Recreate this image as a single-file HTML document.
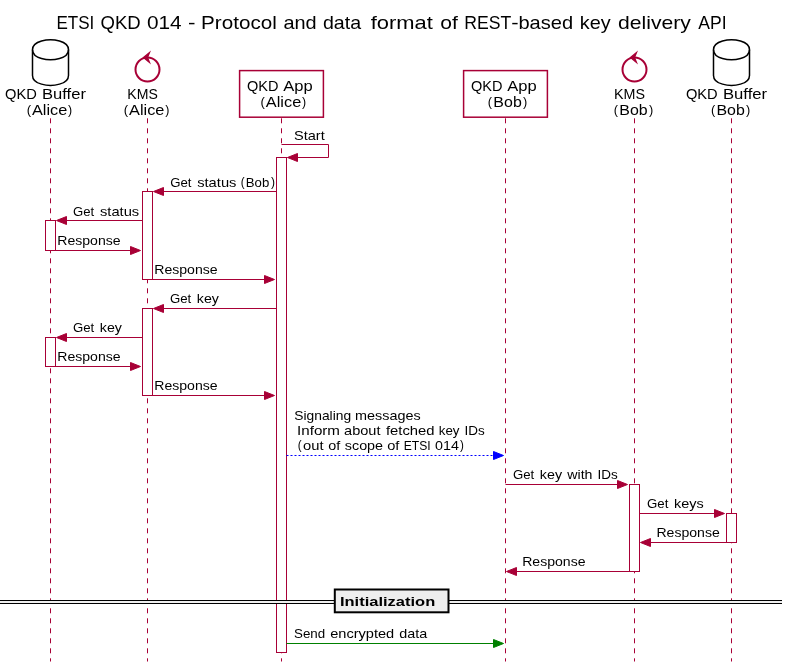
<!DOCTYPE html>
<html>
<head>
<meta charset="utf-8">
<title>ETSI QKD 014</title>
<style>
html,body{margin:0;padding:0;background:#FFFFFF;}
body{width:788px;height:667px;overflow:hidden;font-family:"Liberation Sans",sans-serif;}
svg{display:block;will-change:transform;}
svg text{font-family:"Liberation Sans",sans-serif;fill:#000000;}
</style>
</head>
<body>
<svg width="788" height="667" viewBox="0 0 788 667">
<rect x="0" y="0" width="788" height="667" fill="#FFFFFF"/>
<line x1="50.5" y1="118.3" x2="50.5" y2="661.5" stroke="#A80036" stroke-width="1" stroke-dasharray="5,5"/>
<line x1="147.5" y1="118.3" x2="147.5" y2="661.5" stroke="#A80036" stroke-width="1" stroke-dasharray="5,5"/>
<line x1="281.5" y1="118.3" x2="281.5" y2="661.5" stroke="#A80036" stroke-width="1" stroke-dasharray="5,5"/>
<line x1="505.5" y1="118.3" x2="505.5" y2="661.5" stroke="#A80036" stroke-width="1" stroke-dasharray="5,5"/>
<line x1="634.5" y1="118.3" x2="634.5" y2="661.5" stroke="#A80036" stroke-width="1" stroke-dasharray="5,5"/>
<line x1="731.5" y1="118.3" x2="731.5" y2="661.5" stroke="#A80036" stroke-width="1" stroke-dasharray="5,5"/>
<rect x="276.5" y="157.5" width="10" height="495.0" fill="#FFFFFF" stroke="#A80036" stroke-width="1"/>
<rect x="142.5" y="191.5" width="10" height="88.0" fill="#FFFFFF" stroke="#A80036" stroke-width="1"/>
<rect x="45.5" y="220.5" width="10" height="30.0" fill="#FFFFFF" stroke="#A80036" stroke-width="1"/>
<rect x="142.5" y="308.5" width="10" height="87.0" fill="#FFFFFF" stroke="#A80036" stroke-width="1"/>
<rect x="45.5" y="337.5" width="10" height="29.0" fill="#FFFFFF" stroke="#A80036" stroke-width="1"/>
<rect x="629.5" y="484.5" width="10" height="87.0" fill="#FFFFFF" stroke="#A80036" stroke-width="1"/>
<rect x="726.5" y="513.5" width="10" height="29.0" fill="#FFFFFF" stroke="#A80036" stroke-width="1"/>
<path d="M32.5,49.7 C32.5,39.7 50.5,39.7 50.5,39.7 C50.5,39.7 68.5,39.7 68.5,49.7 L68.5,75.4 C68.5,85.4 50.5,85.4 50.5,85.4 C50.5,85.4 32.5,85.4 32.5,75.4 L32.5,49.7" fill="#FFFFFF" stroke="#000000" stroke-width="1.5"/>
<path d="M32.5,49.7 C32.5,59.7 50.5,59.7 50.5,59.7 C50.5,59.7 68.5,59.7 68.5,49.7" fill="none" stroke="#000000" stroke-width="1.5"/>
<path d="M713.5,49.7 C713.5,39.7 731.5,39.7 731.5,39.7 C731.5,39.7 749.5,39.7 749.5,49.7 L749.5,75.4 C749.5,85.4 731.5,85.4 731.5,85.4 C731.5,85.4 713.5,85.4 713.5,75.4 L713.5,49.7" fill="#FFFFFF" stroke="#000000" stroke-width="1.5"/>
<path d="M713.5,49.7 C713.5,59.7 731.5,59.7 731.5,59.7 C731.5,59.7 749.5,59.7 749.5,49.7" fill="none" stroke="#000000" stroke-width="1.5"/>
<ellipse cx="147.5" cy="69.5" rx="12" ry="12" fill="#FFFFFF" stroke="#A80036" stroke-width="2"/>
<polygon points="143.5,57.5 149.5,52.5 147.5,57.5 149.5,62.5" fill="#A80036" stroke="#A80036" stroke-width="1.25" stroke-miterlimit="10"/>
<ellipse cx="634.5" cy="69.5" rx="12" ry="12" fill="#FFFFFF" stroke="#A80036" stroke-width="2"/>
<polygon points="630.5,57.5 636.5,52.5 634.5,57.5 636.5,62.5" fill="#A80036" stroke="#A80036" stroke-width="1.25" stroke-miterlimit="10"/>
<rect x="239.6" y="70.6" width="83.8" height="46.6" fill="#FFFFFF" stroke="#A80036" stroke-width="1.5"/>
<rect x="463.6" y="70.6" width="83.8" height="46.6" fill="#FFFFFF" stroke="#A80036" stroke-width="1.5"/>
<text font-size="18.81"><tspan x="56.40" y="29.1" font-size="18.81" textLength="37.87" lengthAdjust="spacingAndGlyphs">ETSI</tspan> <tspan x="100.52" y="29.1" font-size="18.81" textLength="40.16" lengthAdjust="spacingAndGlyphs">QKD</tspan> <tspan x="146.99" y="29.1" font-size="18.81" textLength="34.72" lengthAdjust="spacingAndGlyphs">014</tspan> <tspan x="187.90" y="29.1" font-size="18.81" textLength="7.50" lengthAdjust="spacingAndGlyphs">-</tspan> <tspan x="201.11" y="29.1" font-size="18.81" textLength="75.67" lengthAdjust="spacingAndGlyphs">Protocol</tspan> <tspan x="283.45" y="29.1" font-size="18.81" textLength="33.23" lengthAdjust="spacingAndGlyphs">and</tspan> <tspan x="322.98" y="29.1" font-size="18.81" textLength="38.12" lengthAdjust="spacingAndGlyphs">data</tspan> <tspan x="370.69" y="29.1" font-size="18.81" textLength="62.07" lengthAdjust="spacingAndGlyphs">format</tspan> <tspan x="440.22" y="29.1" font-size="18.81" textLength="17.55" lengthAdjust="spacingAndGlyphs">of</tspan> <tspan x="464.35" y="29.1" font-size="18.81" textLength="47.05" lengthAdjust="spacingAndGlyphs">REST</tspan><tspan x="511.22" y="29.1" font-size="18.81" textLength="7.37" lengthAdjust="spacingAndGlyphs">-</tspan><tspan x="518.41" y="29.1" font-size="18.81" textLength="54.69" lengthAdjust="spacingAndGlyphs">based</tspan> <tspan x="579.76" y="29.1" font-size="18.81" textLength="30.88" lengthAdjust="spacingAndGlyphs">key</tspan> <tspan x="618.01" y="29.1" font-size="18.81" textLength="72.83" lengthAdjust="spacingAndGlyphs">delivery</tspan> <tspan x="698.37" y="29.1" font-size="18.81" textLength="28.25" lengthAdjust="spacingAndGlyphs">API</tspan></text>
<text font-size="14.63"><tspan x="5.01" y="98.7" font-size="14.63" textLength="31.80" lengthAdjust="spacingAndGlyphs">QKD</tspan> <tspan x="42.05" y="98.7" font-size="14.63" textLength="43.92" lengthAdjust="spacingAndGlyphs">Buffer</tspan></text>
<text font-size="14.63"><tspan x="26.68" y="113.97" font-size="13.38" textLength="4.40" lengthAdjust="spacingAndGlyphs">(</tspan><tspan x="31.97" y="114.9" font-size="14.63" textLength="35.36" lengthAdjust="spacingAndGlyphs">Alice</tspan><tspan x="68.03" y="113.97" font-size="13.38" textLength="4.14" lengthAdjust="spacingAndGlyphs">)</tspan></text>
<text font-size="14.63"><tspan x="127.35" y="98.7" font-size="14.63" textLength="30.50" lengthAdjust="spacingAndGlyphs">KMS</tspan></text>
<text font-size="14.63"><tspan x="123.78" y="113.97" font-size="13.38" textLength="4.40" lengthAdjust="spacingAndGlyphs">(</tspan><tspan x="129.07" y="114.9" font-size="14.63" textLength="35.36" lengthAdjust="spacingAndGlyphs">Alice</tspan><tspan x="165.13" y="113.97" font-size="13.38" textLength="4.14" lengthAdjust="spacingAndGlyphs">)</tspan></text>
<text font-size="14.63"><tspan x="247.01" y="91" font-size="14.63" textLength="31.48" lengthAdjust="spacingAndGlyphs">QKD</tspan> <tspan x="283.17" y="91" font-size="14.63" textLength="29.43" lengthAdjust="spacingAndGlyphs">App</tspan></text>
<text font-size="14.63"><tspan x="260.58" y="106.27" font-size="13.38" textLength="4.40" lengthAdjust="spacingAndGlyphs">(</tspan><tspan x="265.87" y="107.2" font-size="14.63" textLength="35.36" lengthAdjust="spacingAndGlyphs">Alice</tspan><tspan x="301.93" y="106.27" font-size="13.38" textLength="4.14" lengthAdjust="spacingAndGlyphs">)</tspan></text>
<text font-size="14.63"><tspan x="471.01" y="91" font-size="14.63" textLength="31.48" lengthAdjust="spacingAndGlyphs">QKD</tspan> <tspan x="507.17" y="91" font-size="14.63" textLength="29.43" lengthAdjust="spacingAndGlyphs">App</tspan></text>
<text font-size="14.63"><tspan x="487.80" y="106.27" font-size="13.38" textLength="4.27" lengthAdjust="spacingAndGlyphs">(</tspan><tspan x="493.39" y="107.2" font-size="14.63" textLength="28.38" lengthAdjust="spacingAndGlyphs">Bob</tspan><tspan x="523.02" y="106.27" font-size="13.38" textLength="4.27" lengthAdjust="spacingAndGlyphs">)</tspan></text>
<text font-size="14.63"><tspan x="614.03" y="98.7" font-size="14.63" textLength="31.03" lengthAdjust="spacingAndGlyphs">KMS</tspan></text>
<text font-size="14.63"><tspan x="613.70" y="113.97" font-size="13.38" textLength="4.27" lengthAdjust="spacingAndGlyphs">(</tspan><tspan x="619.29" y="114.9" font-size="14.63" textLength="28.38" lengthAdjust="spacingAndGlyphs">Bob</tspan><tspan x="648.92" y="113.97" font-size="13.38" textLength="4.27" lengthAdjust="spacingAndGlyphs">)</tspan></text>
<text font-size="14.63"><tspan x="685.91" y="98.7" font-size="14.63" textLength="31.80" lengthAdjust="spacingAndGlyphs">QKD</tspan> <tspan x="722.94" y="98.7" font-size="14.63" textLength="44.13" lengthAdjust="spacingAndGlyphs">Buffer</tspan></text>
<text font-size="14.63"><tspan x="710.90" y="113.97" font-size="13.38" textLength="4.27" lengthAdjust="spacingAndGlyphs">(</tspan><tspan x="716.49" y="114.9" font-size="14.63" textLength="28.38" lengthAdjust="spacingAndGlyphs">Bob</tspan><tspan x="746.12" y="113.97" font-size="13.38" textLength="4.27" lengthAdjust="spacingAndGlyphs">)</tspan></text>
<line x1="281.5" y1="144.5" x2="328.5" y2="144.5" stroke="#A80036"/>
<line x1="328.5" y1="144.5" x2="328.5" y2="157.5" stroke="#A80036"/>
<line x1="287.5" y1="157.5" x2="328.5" y2="157.5" stroke="#A80036"/>
<polygon points="297.5,153.5 287.5,157.5 297.5,161.5" fill="#A80036" stroke="#A80036" stroke-width="1"/>
<text font-size="13.58"><tspan x="293.94" y="139.6" font-size="13.58" textLength="30.77" lengthAdjust="spacingAndGlyphs">Start</tspan></text>
<polygon points="163.5,187.5 153.5,191.5 163.5,195.5" fill="#A80036" stroke="#A80036" stroke-width="1"/>
<line x1="157.5" y1="191.5" x2="276.5" y2="191.5" stroke="#A80036" stroke-width="1"/>
<text font-size="13.58"><tspan x="170.14" y="186.5" font-size="13.58" textLength="21.26" lengthAdjust="spacingAndGlyphs">Get</tspan> <tspan x="197.19" y="186.5" font-size="13.58" textLength="39.24" lengthAdjust="spacingAndGlyphs">status</tspan> <tspan x="240.87" y="185.64" font-size="12.43" textLength="3.89" lengthAdjust="spacingAndGlyphs">(</tspan><tspan x="245.82" y="186.5" font-size="13.58" textLength="23.43" lengthAdjust="spacingAndGlyphs">Bob</tspan><tspan x="271.03" y="185.64" font-size="12.43" textLength="4.02" lengthAdjust="spacingAndGlyphs">)</tspan></text>
<polygon points="66.5,216.5 56.5,220.5 66.5,224.5" fill="#A80036" stroke="#A80036" stroke-width="1"/>
<line x1="60.5" y1="220.5" x2="142.5" y2="220.5" stroke="#A80036" stroke-width="1"/>
<text font-size="13.58"><tspan x="73.04" y="215.6" font-size="13.58" textLength="21.16" lengthAdjust="spacingAndGlyphs">Get</tspan> <tspan x="99.99" y="215.6" font-size="13.58" textLength="39.24" lengthAdjust="spacingAndGlyphs">status</tspan></text>
<polygon points="130.5,246.5 140.5,250.5 130.5,254.5" fill="#A80036" stroke="#A80036" stroke-width="1"/>
<line x1="55.5" y1="250.5" x2="136.5" y2="250.5" stroke="#A80036" stroke-width="1"/>
<text font-size="13.58"><tspan x="57.25" y="244.7" font-size="13.58" textLength="63.38" lengthAdjust="spacingAndGlyphs">Response</tspan></text>
<polygon points="264.5,275.5 274.5,279.5 264.5,283.5" fill="#A80036" stroke="#A80036" stroke-width="1"/>
<line x1="152.5" y1="279.5" x2="270.5" y2="279.5" stroke="#A80036" stroke-width="1"/>
<text font-size="13.58"><tspan x="154.25" y="273.8" font-size="13.58" textLength="63.38" lengthAdjust="spacingAndGlyphs">Response</tspan></text>
<polygon points="163.5,304.5 153.5,308.5 163.5,312.5" fill="#A80036" stroke="#A80036" stroke-width="1"/>
<line x1="157.5" y1="308.5" x2="276.5" y2="308.5" stroke="#A80036" stroke-width="1"/>
<text font-size="13.58"><tspan x="170.04" y="302.9" font-size="13.58" textLength="21.26" lengthAdjust="spacingAndGlyphs">Get</tspan> <tspan x="196.84" y="302.9" font-size="13.58" textLength="22.08" lengthAdjust="spacingAndGlyphs">key</tspan></text>
<polygon points="66.5,333.5 56.5,337.5 66.5,341.5" fill="#A80036" stroke="#A80036" stroke-width="1"/>
<line x1="60.5" y1="337.5" x2="142.5" y2="337.5" stroke="#A80036" stroke-width="1"/>
<text font-size="13.58"><tspan x="73.04" y="332.1" font-size="13.58" textLength="21.26" lengthAdjust="spacingAndGlyphs">Get</tspan> <tspan x="99.84" y="332.1" font-size="13.58" textLength="22.08" lengthAdjust="spacingAndGlyphs">key</tspan></text>
<polygon points="130.5,362.5 140.5,366.5 130.5,370.5" fill="#A80036" stroke="#A80036" stroke-width="1"/>
<line x1="55.5" y1="366.5" x2="136.5" y2="366.5" stroke="#A80036" stroke-width="1"/>
<text font-size="13.58"><tspan x="57.25" y="361.3" font-size="13.58" textLength="63.38" lengthAdjust="spacingAndGlyphs">Response</tspan></text>
<polygon points="264.5,391.5 274.5,395.5 264.5,399.5" fill="#A80036" stroke="#A80036" stroke-width="1"/>
<line x1="152.5" y1="395.5" x2="270.5" y2="395.5" stroke="#A80036" stroke-width="1"/>
<text font-size="13.58"><tspan x="154.25" y="390.4" font-size="13.58" textLength="63.38" lengthAdjust="spacingAndGlyphs">Response</tspan></text>
<polygon points="493.5,451.5 503.5,455.5 493.5,459.5" fill="#0000FF" stroke="#0000FF" stroke-width="1"/>
<line x1="286.5" y1="455.5" x2="499.5" y2="455.5" stroke="#0000FF" stroke-width="1" stroke-dasharray="2,2"/>
<text font-size="13.58"><tspan x="294.27" y="419.5" font-size="13.58" textLength="56.82" lengthAdjust="spacingAndGlyphs">Signaling</tspan> <tspan x="355.04" y="419.5" font-size="13.58" textLength="65.58" lengthAdjust="spacingAndGlyphs">messages</tspan></text>
<text font-size="13.58"><tspan x="297.10" y="434.7" font-size="13.58" textLength="42.89" lengthAdjust="spacingAndGlyphs">Inform</tspan> <tspan x="344.08" y="434.7" font-size="13.58" textLength="36.42" lengthAdjust="spacingAndGlyphs">about</tspan> <tspan x="385.99" y="434.7" font-size="13.58" textLength="48.56" lengthAdjust="spacingAndGlyphs">fetched</tspan> <tspan x="438.80" y="434.7" font-size="13.58" textLength="20.72" lengthAdjust="spacingAndGlyphs">key</tspan> <tspan x="464.56" y="434.7" font-size="13.58" textLength="20.23" lengthAdjust="spacingAndGlyphs">IDs</tspan></text>
<text font-size="13.58"><tspan x="297.87" y="448.74" font-size="12.43" textLength="3.89" lengthAdjust="spacingAndGlyphs">(</tspan><tspan x="302.98" y="449.6" font-size="13.58" textLength="20.53" lengthAdjust="spacingAndGlyphs">out</tspan> <tspan x="328.30" y="449.6" font-size="13.58" textLength="11.98" lengthAdjust="spacingAndGlyphs">of</tspan> <tspan x="344.80" y="449.6" font-size="13.58" textLength="38.24" lengthAdjust="spacingAndGlyphs">scope</tspan> <tspan x="387.19" y="449.6" font-size="13.58" textLength="12.19" lengthAdjust="spacingAndGlyphs">of</tspan> <tspan x="403.71" y="449.6" font-size="13.58" textLength="26.91" lengthAdjust="spacingAndGlyphs">ETSI</tspan> <tspan x="435.04" y="449.6" font-size="13.58" textLength="23.88" lengthAdjust="spacingAndGlyphs">014</tspan><tspan x="460.03" y="448.74" font-size="12.43" textLength="3.89" lengthAdjust="spacingAndGlyphs">)</tspan></text>
<polygon points="617.5,480.5 627.5,484.5 617.5,488.5" fill="#A80036" stroke="#A80036" stroke-width="1"/>
<line x1="505.5" y1="484.5" x2="623.5" y2="484.5" stroke="#A80036" stroke-width="1"/>
<text font-size="13.58"><tspan x="513.04" y="478.7" font-size="13.58" textLength="21.26" lengthAdjust="spacingAndGlyphs">Get</tspan> <tspan x="539.84" y="478.7" font-size="13.58" textLength="22.19" lengthAdjust="spacingAndGlyphs">key</tspan> <tspan x="567.32" y="478.7" font-size="13.58" textLength="25.20" lengthAdjust="spacingAndGlyphs">with</tspan> <tspan x="597.46" y="478.7" font-size="13.58" textLength="20.23" lengthAdjust="spacingAndGlyphs">IDs</tspan></text>
<polygon points="714.5,509.5 724.5,513.5 714.5,517.5" fill="#A80036" stroke="#A80036" stroke-width="1"/>
<line x1="639.5" y1="513.5" x2="720.5" y2="513.5" stroke="#A80036" stroke-width="1"/>
<text font-size="13.58"><tspan x="647.03" y="507.8" font-size="13.58" textLength="21.36" lengthAdjust="spacingAndGlyphs">Get</tspan> <tspan x="673.93" y="507.8" font-size="13.58" textLength="29.69" lengthAdjust="spacingAndGlyphs">keys</tspan></text>
<polygon points="650.5,538.5 640.5,542.5 650.5,546.5" fill="#A80036" stroke="#A80036" stroke-width="1"/>
<line x1="644.5" y1="542.5" x2="726.5" y2="542.5" stroke="#A80036" stroke-width="1"/>
<text font-size="13.58"><tspan x="656.45" y="536.9" font-size="13.58" textLength="63.38" lengthAdjust="spacingAndGlyphs">Response</tspan></text>
<polygon points="516.5,567.5 506.5,571.5 516.5,575.5" fill="#A80036" stroke="#A80036" stroke-width="1"/>
<line x1="510.5" y1="571.5" x2="629.5" y2="571.5" stroke="#A80036" stroke-width="1"/>
<text font-size="13.58"><tspan x="522.15" y="566.1" font-size="13.58" textLength="63.38" lengthAdjust="spacingAndGlyphs">Response</tspan></text>
<rect x="0" y="600.5" width="782" height="3" fill="#EEEEEE"/>
<line x1="0" y1="600.5" x2="782" y2="600.5" stroke="#000" stroke-width="1"/>
<line x1="0" y1="603.5" x2="782" y2="603.5" stroke="#000" stroke-width="1"/>
<rect x="334.8" y="589.5" width="113.7" height="22.8" fill="#EEEEEE" stroke="#000" stroke-width="2"/>
<text font-size="13.58" font-weight="bold"><tspan x="339.90" y="605.8" font-size="13.58" textLength="95.33" lengthAdjust="spacingAndGlyphs">Initialization</tspan></text>
<polygon points="493.5,639.5 503.5,643.5 493.5,647.5" fill="#008000" stroke="#008000" stroke-width="1"/>
<line x1="286.5" y1="643.5" x2="499.5" y2="643.5" stroke="#008000" stroke-width="1"/>
<text font-size="13.58"><tspan x="293.99" y="638.4" font-size="13.58" textLength="31.17" lengthAdjust="spacingAndGlyphs">Send</tspan> <tspan x="330.18" y="638.4" font-size="13.58" textLength="64.06" lengthAdjust="spacingAndGlyphs">encrypted</tspan> <tspan x="399.20" y="638.4" font-size="13.58" textLength="28.00" lengthAdjust="spacingAndGlyphs">data</tspan></text>
</svg>
</body>
</html>
